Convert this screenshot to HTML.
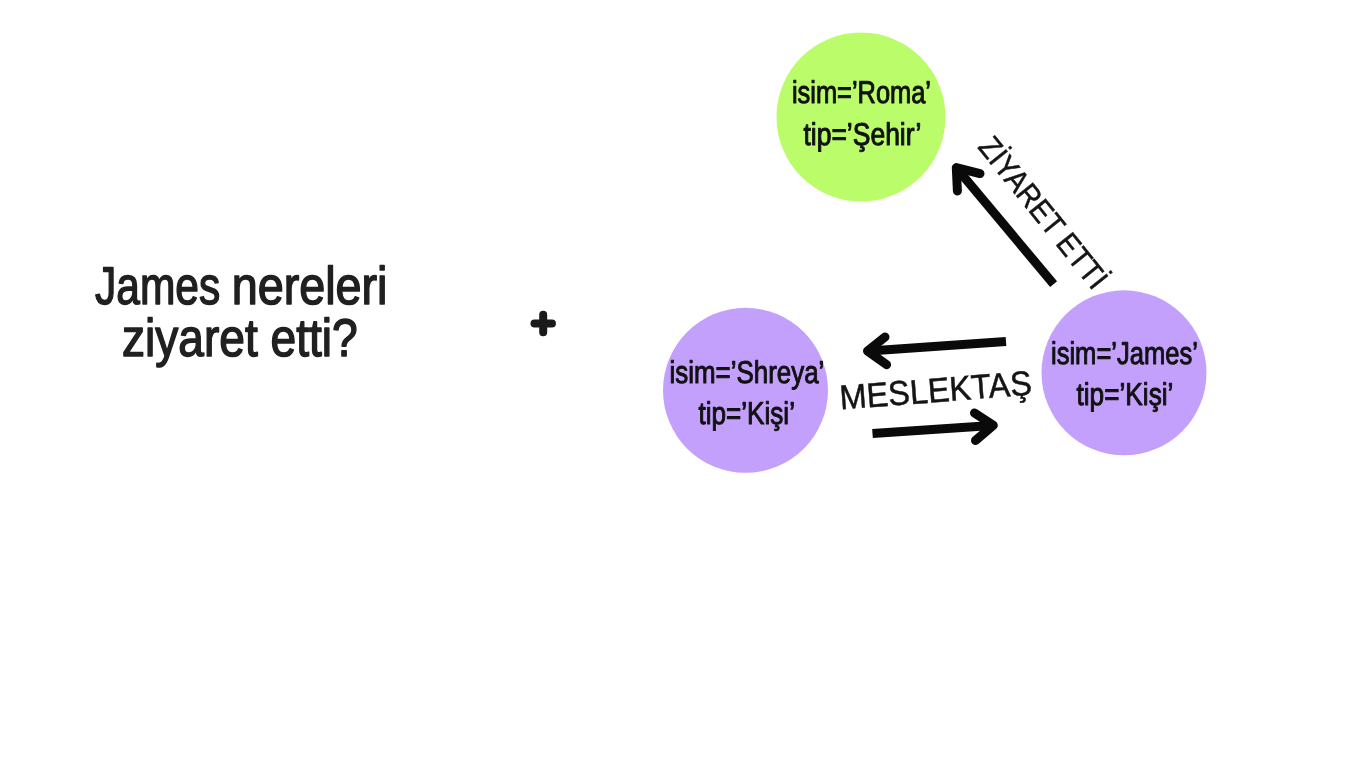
<!DOCTYPE html>
<html lang="tr">
<head>
<meta charset="utf-8">
<title>James nereleri ziyaret etti?</title>
<style>
html,body{margin:0;padding:0;background:#fff;}
body{width:1365px;height:768px;overflow:hidden;position:relative;}
svg{position:absolute;left:0;top:0;display:block;}
text{font-family:"Liberation Sans",sans-serif;fill:#1c1c1c;text-rendering:geometricPrecision;filter:grayscale(1);}
.q{font-size:53px;fill:#202020;stroke:#202020;stroke-width:1.5px;stroke-linejoin:round;}
.n{font-size:31.5px;stroke:#111;stroke-width:1px;fill:#111;stroke-linejoin:round;}
.l{font-size:32px;fill:#141414;stroke:#141414;stroke-width:.5px;}
.a{stroke:#0a0a0a;stroke-width:9;fill:none;stroke-linejoin:round;}
</style>
</head>
<body>
<svg width="1365" height="768" viewBox="0 0 1365 768">
  <!-- question -->
  <text class="q" y="304.3"><tspan x="95" textLength="125.2" lengthAdjust="spacingAndGlyphs">James</tspan> <tspan x="231.7" textLength="155.8" lengthAdjust="spacingAndGlyphs">nereleri</tspan></text>
  <text class="q" x="239.85" y="355.8" text-anchor="middle" textLength="235.7" lengthAdjust="spacingAndGlyphs">ziyaret etti?</text>

  <!-- plus -->
  <path d="M534.45 323.6H551.95M543.2 314.85V332.35" stroke="#1a1a1a" stroke-width="8" stroke-linecap="round" fill="none"/>

  <!-- nodes -->
  <circle cx="861" cy="117" r="84.5" fill="#bbfc6b"/>
  <circle cx="745.5" cy="390.3" r="82.5" fill="#c2a0fc"/>
  <circle cx="1124" cy="372.8" r="82.5" fill="#c2a0fc"/>

  <text class="n" x="861.45" y="102.7" text-anchor="middle" textLength="139" lengthAdjust="spacingAndGlyphs">isim=’Roma’</text>
  <text class="n" x="862.45" y="144.6" text-anchor="middle" textLength="118" lengthAdjust="spacingAndGlyphs">tip=’Şehir’</text>

  <text class="n" x="746.95" y="382.8" text-anchor="middle" textLength="154.8" lengthAdjust="spacingAndGlyphs">isim=’Shreya’</text>
  <text class="n" x="746.7" y="424" text-anchor="middle" textLength="96.5" lengthAdjust="spacingAndGlyphs">tip=’Kişi’</text>

  <text class="n" x="1124.45" y="364.3" text-anchor="middle" textLength="146.9" lengthAdjust="spacingAndGlyphs">isim=’James’</text>
  <text class="n" x="1124.95" y="405" text-anchor="middle" textLength="96.9" lengthAdjust="spacingAndGlyphs">tip=’Kişi’</text>

  <!-- arrows -->
  <g class="a">
    <path d="M1053.6 284.2L957 168.6"/>
    <path d="M980 173.6L956.3 167.6L957.4 191" stroke-linecap="round"/>
    <path d="M1006 341.5L869 351"/>
    <path d="M885 337L867.5 351L886.6 364.7" stroke-linecap="round"/>
    <path d="M872.5 433.5L992 425.5"/>
    <path d="M974.5 413L993.3 425.3L975.5 440.5" stroke-linecap="round"/>
  </g>

  <!-- labels -->
  <text class="l" transform="translate(976.9 147.3) rotate(51.1)" x="0" y="0" textLength="185" style="font-size:31px" lengthAdjust="spacingAndGlyphs">ZİYARET ETTİ</text>
  <text class="l" transform="translate(840.5 409.6) rotate(-4.45)" x="0" y="0" textLength="192.6" lengthAdjust="spacingAndGlyphs" style="font-size:34.5px">MESLEKTAŞ</text>
</svg>
</body>
</html>
